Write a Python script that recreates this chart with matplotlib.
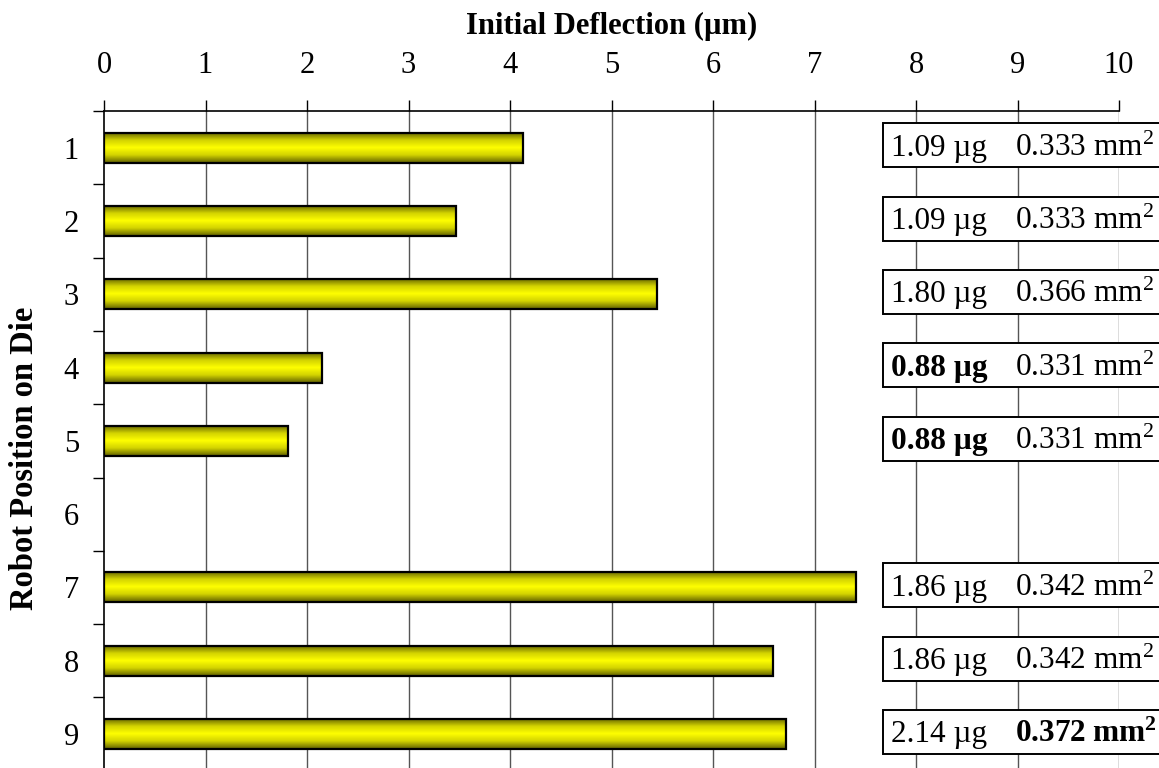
import numpy as np
import matplotlib
matplotlib.use("Agg")
import matplotlib.pyplot as plt
from matplotlib.colors import LinearSegmentedColormap
from matplotlib.patches import Rectangle

plt.rcParams["font.family"] = ["Liberation Serif", "DejaVu Serif"]
plt.rcParams["mathtext.fontset"] = "custom"
plt.rcParams["mathtext.rm"] = "Liberation Serif"
plt.rcParams["mathtext.bf"] = "Liberation Serif:bold"

# Robot positions on the die and their initial deflection (µm)
positions = [1, 2, 3, 4, 5, 6, 7, 8, 9]
deflection = [4.13, 3.47, 5.45, 2.15, 1.81, np.nan, 7.41, 6.59, 6.72]

# Mass and area of each robot, with emphasis flags
mass = ["1.09", "1.09", "1.80", "0.88", "0.88", None, "1.86", "1.86", "2.14"]
area = ["0.333", "0.333", "0.366", "0.331", "0.331", None, "0.342", "0.342", "0.372"]
mass_bold = [False, False, False, True, True, False, False, False, False]
area_bold = [False, False, False, False, False, False, False, False, True]

x_ticks = list(range(0, 11))

W, H = 1159, 768
fig = plt.figure(figsize=(W / 100, H / 100), dpi=100)
ax = fig.add_axes([104 / W, 1 - 770.7 / H, 1015 / W, (770.7 - 111) / H])

# metallic yellow gradient used to fill the bars
cmap = LinearSegmentedColormap.from_list(
    "brass",
    [(0.0, (0.38, 0.38, 0.0)), (0.25, (0.82, 0.82, 0.0)), (0.5, (1.0, 1.0, 0.0)),
     (0.75, (0.82, 0.82, 0.0)), (1.0, (0.38, 0.38, 0.0))])
grad = np.linspace(0, 1, 64).reshape(-1, 1)

bar_h = 0.41
for p, v in zip(positions, deflection):
    if np.isnan(v):
        continue
    ax.imshow(grad, cmap=cmap, aspect="auto", interpolation="bilinear",
              extent=(0, v, p + bar_h / 2, p - bar_h / 2), zorder=3)
    ax.add_patch(Rectangle((0, p - bar_h / 2), v, bar_h, fill=False,
                           edgecolor="black", linewidth=1.6, zorder=4))

ax.set_xlim(0, 10)
ax.set_ylim(9.5, 0.5)

# grid lines
for x in x_ticks[1:]:
    ax.axvline(x, color="#555555", linewidth=1.0, zorder=1)

# annotation boxes with mass and area
box_h = 0.60
txt_size = 22.5
for p, m, a, mb, ab in zip(positions, mass, area, mass_bold, area_bold):
    if m is None:
        continue
    ax.add_patch(Rectangle((7.67, p - 0.03 - box_h / 2), 3.0, box_h,
                           facecolor="white", edgecolor="black", linewidth=1.4,
                           zorder=5, clip_on=False))
    ax.text(7.75, p + 0.11, m + " µg", fontsize=txt_size,
            fontweight="bold" if mb else "normal", va="baseline", ha="left",
            zorder=6, clip_on=False)
    unit = r"$\mathbf{mm^2}$" if ab else r"$\mathrm{mm^2}$"
    ax.text(8.975, p + 0.11, a + " " + unit, fontsize=txt_size,
            fontweight="bold" if ab else "normal", va="baseline", ha="left",
            zorder=6, clip_on=False)

# axes styling
for side in ("right", "bottom"):
    ax.spines[side].set_visible(False)
ax.spines["top"].set_linewidth(1.2)
ax.spines["left"].set_linewidth(1.2)

ax.xaxis.tick_top()
ax.set_xticks(x_ticks)
ax.set_xticklabels([str(t) for t in x_ticks], fontsize=22)
ax.tick_params(axis="x", direction="out", length=8, width=1.0, pad=14)

ax.set_yticks(positions)
ax.set_yticklabels([str(p) for p in positions], fontsize=22)
ax.set_yticks([p + 0.5 for p in range(0, 10)], minor=True)
ax.tick_params(axis="y", which="major", length=0, pad=18)
ax.tick_params(axis="y", which="minor", direction="out", length=8, width=1.0)

fig.text(612 / W, 1 - 26 / H, "Initial Deflection (µm)", fontsize=22,
         fontweight="bold", ha="center", va="center")
fig.text(25 / W, 1 - 458 / H, "Robot Position on Die", fontsize=23.5,
         fontweight="bold", ha="center", va="center", rotation=90)

fig.savefig("out.png", dpi=100)
